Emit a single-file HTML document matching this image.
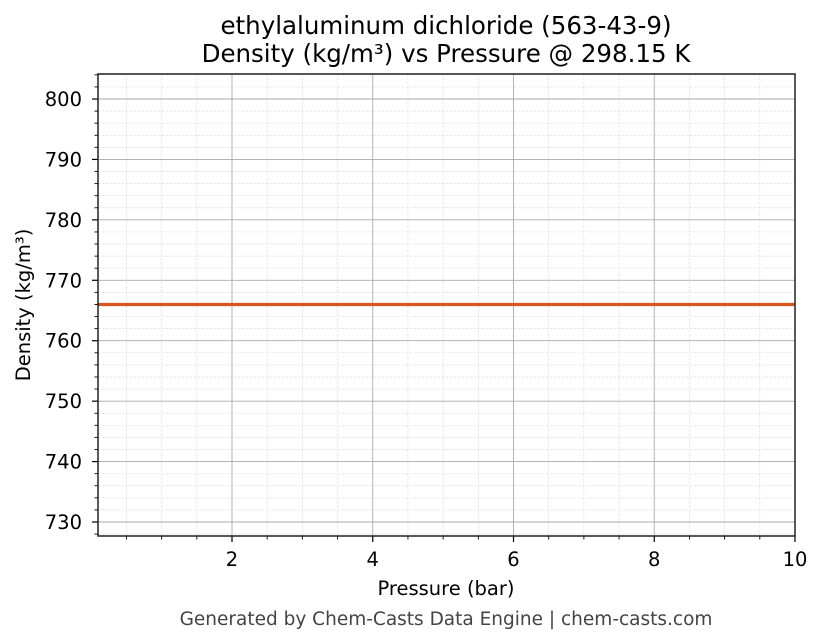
<!DOCTYPE html>
<html><head><meta charset="utf-8"><style>
body{margin:0;background:#fff;}
svg{display:block;font-family:"DejaVu Sans","Liberation Sans",sans-serif;}
</style></head><body>
<svg id="s" width="823" height="644" xmlns="http://www.w3.org/2000/svg">
<rect width="823" height="644" fill="#fff"/>
<g id="g"></g>
<text x="446" y="34" font-size="24.5" text-anchor="middle" fill="#000">ethylaluminum dichloride (563-43-9)</text>
<text x="446" y="62" font-size="24.5" text-anchor="middle" fill="#000">Density (kg/m³) vs Pressure @ 298.15 K</text>
<text x="446" y="595" font-size="19.5" text-anchor="middle" fill="#000">Pressure (bar)</text>
<text transform="translate(30,305) rotate(-90)" font-size="19.5" text-anchor="middle" fill="#000">Density (kg/m³)</text>
<text x="446" y="625" font-size="18.5" text-anchor="middle" fill="#444">Generated by Chem-Casts Data Engine | chem-casts.com</text>
</svg>
<script>
var g=document.getElementById('g'),h='';
var L=98,R=795,T=74,B=536;
function X(v){return 91.25+v*70.375;}
function Y(v){return 99+(800-v)*6.043;}
for(var v=0.5;v<10;v+=0.5){var x=X(v);if(x>L&&x<R&&v%2)h+='<line x1="'+x+'" x2="'+x+'" y1="'+T+'" y2="'+B+'" stroke="#ddd" stroke-width="0.7" stroke-dasharray="2.5,1.5"/>';}
for(var v=728;v<=804;v+=2){var y=Y(v);if(y>T&&y<B&&v%10)h+='<line x1="'+L+'" x2="'+R+'" y1="'+y+'" y2="'+y+'" stroke="#ddd" stroke-width="0.7" stroke-dasharray="2.5,1.5"/>';}
for(var v=2;v<=10;v+=2){var x=X(v);h+='<line x1="'+x+'" x2="'+x+'" y1="'+T+'" y2="'+B+'" stroke="#aaa" stroke-width="0.9"/>';h+='<line x1="'+x+'" x2="'+x+'" y1="'+B+'" y2="'+(B+6)+'" stroke="#000" stroke-width="1.2"/>';h+='<text x="'+x+'" y="'+(B+30)+'" font-size="19.5" text-anchor="middle">'+v+'</text>';}
for(var v=730;v<=800;v+=10){var y=Y(v);h+='<line x1="'+L+'" x2="'+R+'" y1="'+y+'" y2="'+y+'" stroke="#aaa" stroke-width="0.9"/>';h+='<line x1="'+(L-6)+'" x2="'+L+'" y1="'+y+'" y2="'+y+'" stroke="#000" stroke-width="1.2"/>';h+='<text x="'+(L-16)+'" y="'+(y+7)+'" font-size="19.5" text-anchor="end">'+v+'</text>';}
for(var v=0.5;v<10;v+=0.5){var x=X(v);if(x>L&&v%2)h+='<line x1="'+x+'" x2="'+x+'" y1="'+B+'" y2="'+(B+3.5)+'" stroke="#000" stroke-width="0.9"/>';}
for(var v=728;v<=804;v+=2){var y=Y(v);if(y>T&&y<B&&v%10)h+='<line x1="'+(L-3.5)+'" x2="'+L+'" y1="'+y+'" y2="'+y+'" stroke="#000" stroke-width="0.9"/>';}
h+='<line x1="'+L+'" x2="'+R+'" y1="304.5" y2="304.5" stroke="#d9541e" stroke-width="3.2"/>';
h+='<rect x="'+L+'" y="'+T+'" width="'+(R-L)+'" height="'+(B-T)+'" fill="none" stroke="#222" stroke-width="1.5"/>';
g.innerHTML=h;
</script>
</body></html>
